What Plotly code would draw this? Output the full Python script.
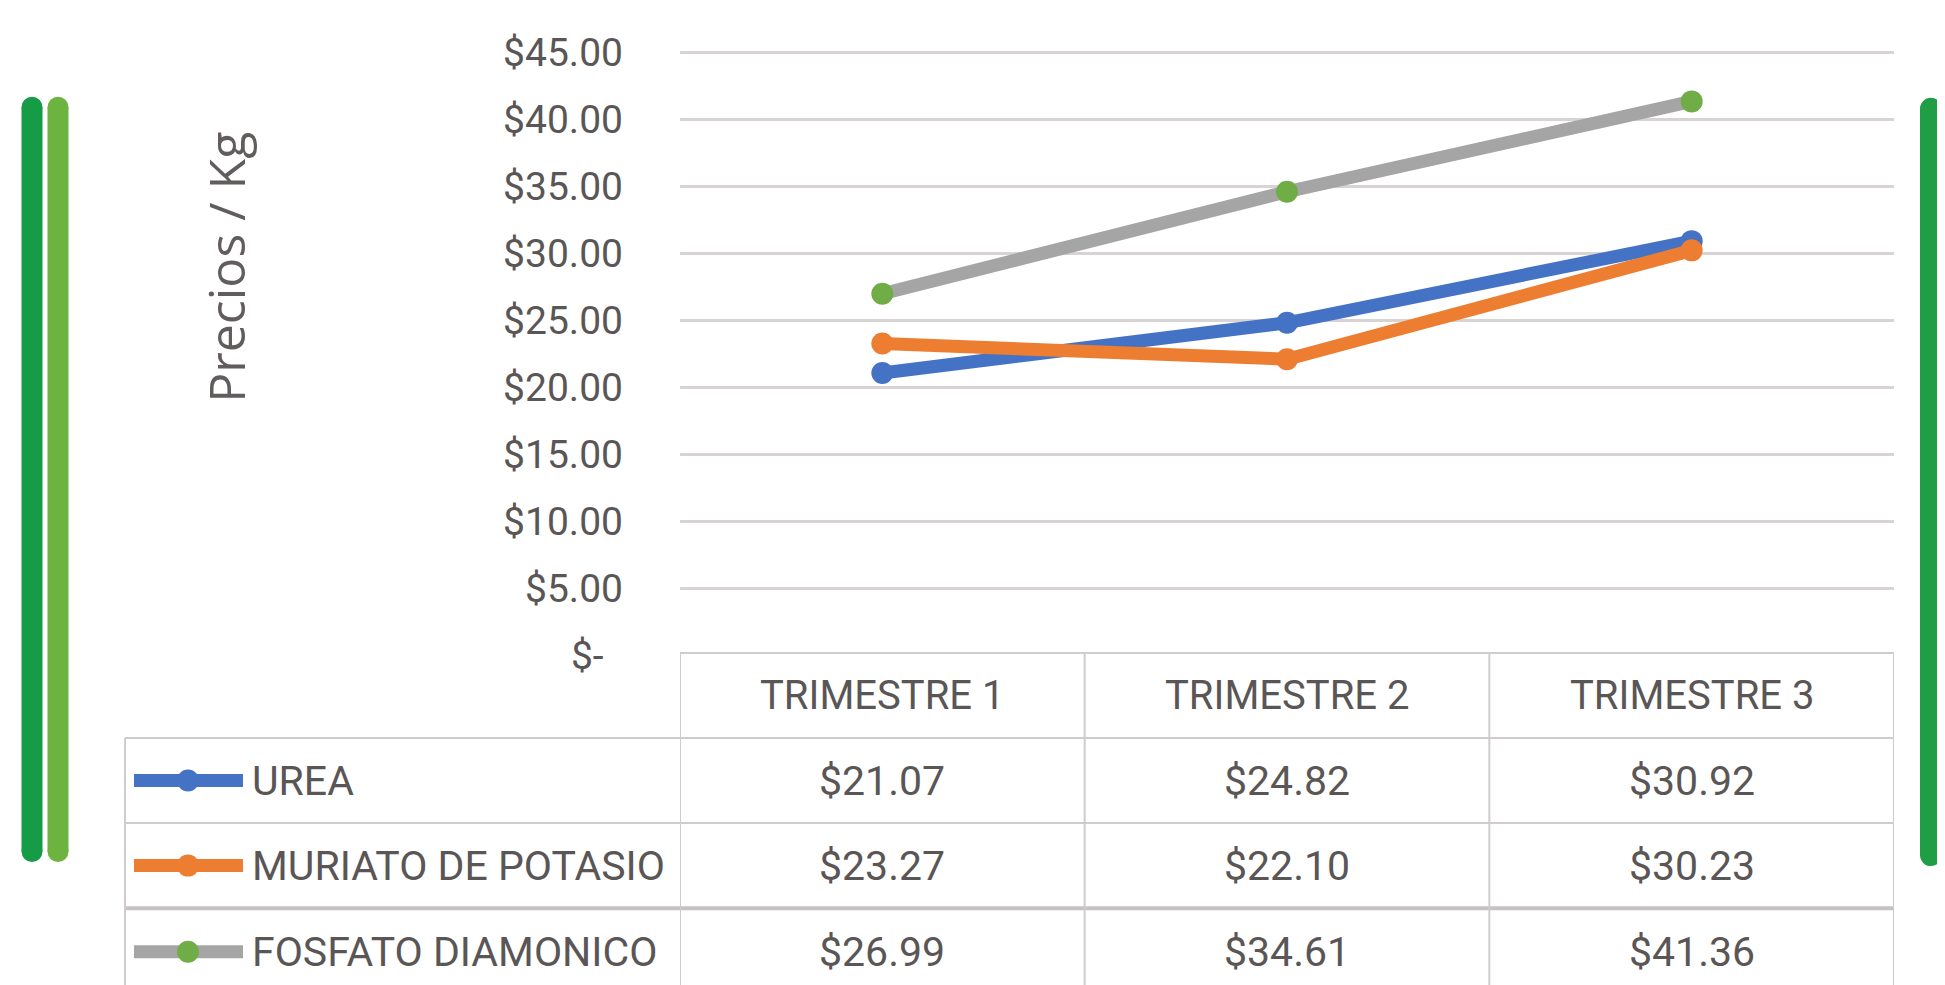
import plotly.graph_objects as go

# ---------------- data ----------------
categories = ["TRIMESTRE 1", "TRIMESTRE 2", "TRIMESTRE 3"]
series_names = ["UREA", "MURIATO DE POTASIO", "FOSFATO DIAMONICO"]
urea = [21.07, 24.82, 30.92]
muriato = [23.27, 22.10, 30.23]
fosfato = [26.99, 34.61, 41.36]
tick_values = [0, 5, 10, 15, 20, 25, 30, 35, 40, 45]
tick_labels = ["$-\u00a0\u00a0", "$5.00", "$10.00", "$15.00", "$20.00",
               "$25.00", "$30.00", "$35.00", "$40.00", "$45.00"]
y_title = "Precios / Kg"

# ---------------- style / layout (page pixels) ----------------
OFF = 8                      # default body margin of the html page
W, H = 1945 - OFF, 985 - OFF
PL, PR = 680, 1894           # plot area left/right (page px)
P45, P0 = 53, 655            # y of $45 and $0 (page px)
YMAX = 45.2
unit = (P0 - P45) / 45.0
PT = P45 - (YMAX - 45) * unit

line_colors = ["#4472C4", "#ED7D31", "#A5A5A5"]
marker_colors = ["#4472C4", "#ED7D31", "#70AD47"]
text_color = "#5b5656"
grid_color = "#d8d4d4"
border_color = "#d0cccc"
FONT = "Roboto, Liberation Sans, sans-serif"


def px_x(px):
    return (px - PL) / (PR - PL)


def px_y(py):
    return (P0 - py) / (P0 - PT)


all_series = [urea, muriato, fosfato]

fig = go.Figure()
for name, vals, lc, mc in zip(series_names, all_series, line_colors, marker_colors):
    fig.add_trace(go.Scatter(
        x=categories, y=vals, name=name, mode="lines+markers",
        line=dict(color=lc, width=13),
        marker=dict(color=mc, size=22, line=dict(width=0)),
        showlegend=False,
    ))

shapes = []
annotations = []

# ---- table ----
row_edges = [653, 738, 823, 908, 995]
col_edges_idx = [-0.5, 0.5, 1.5, 2.5]
legend_left = 125

shapes.append(dict(type="line", xref="x", yref="paper", x0=-0.5, x1=2.5,
                   y0=px_y(row_edges[0]), y1=px_y(row_edges[0]),
                   line=dict(color=border_color, width=2)))
for i, ry in enumerate(row_edges[1:4]):
    shapes.append(dict(type="line", xref="paper", yref="paper",
                       x0=px_x(legend_left), x1=1, y0=px_y(ry), y1=px_y(ry),
                       line=dict(color="#c6c2c2" if i == 2 else border_color,
                                 width=4 if i == 2 else 2)))
for cx in col_edges_idx:
    shapes.append(dict(type="line", xref="x", yref="paper", x0=cx, x1=cx,
                       y0=px_y(row_edges[0]), y1=px_y(row_edges[-1]),
                       line=dict(color=border_color, width=2)))
shapes.append(dict(type="line", xref="paper", yref="paper",
                   x0=px_x(legend_left), x1=px_x(legend_left),
                   y0=px_y(row_edges[1]), y1=px_y(row_edges[-1]),
                   line=dict(color=border_color, width=2)))

for cat in categories:
    annotations.append(dict(x=cat, xref="x", y=px_y((row_edges[0] + row_edges[1]) / 2),
                            yref="paper", text=cat, showarrow=False,
                            font=dict(family=FONT, size=40, color=text_color),
                            xanchor="center", yanchor="middle"))

for r, (name, vals, lc, mc) in enumerate(zip(series_names, all_series, line_colors, marker_colors)):
    yc = (row_edges[r + 1] + row_edges[r + 2]) / 2
    for cat, v in zip(categories, vals):
        annotations.append(dict(x=cat, xref="x", y=px_y(yc), yref="paper",
                                text=f"${v:.2f}", showarrow=False,
                                font=dict(family=FONT, size=41, color=text_color),
                                xanchor="center", yanchor="middle"))
    shapes.append(dict(type="line", xref="paper", yref="paper",
                       x0=px_x(134), x1=px_x(243), y0=px_y(yc), y1=px_y(yc),
                       line=dict(color=lc, width=13)))
    shapes.append(dict(type="circle", xref="paper", yref="paper",
                       x0=px_x(188 - 11), x1=px_x(188 + 11),
                       y0=px_y(yc - 11), y1=px_y(yc + 11),
                       fillcolor=mc, line=dict(width=0)))
    annotations.append(dict(x=px_x(250), xref="paper", y=px_y(yc), yref="paper",
                            text=name, showarrow=False,
                            font=dict(family=FONT, size=41, color=text_color),
                            xanchor="left", yanchor="middle"))

# y axis title
annotations.append(dict(x=px_x(226), xref="paper", y=px_y(268), yref="paper",
                        text=y_title, showarrow=False, textangle=-90,
                        font=dict(family="Open Sans, sans-serif", size=50, color="#625d5d"),
                        xanchor="center", yanchor="middle"))

# decorative green bars (rounded)
bars = [(32, 97, 862, 21, "#169b46"), (58, 97, 862, 21, "#6cb33f"), (1931, 98, 866, 22, "#1f9e45")]
for cx, y0, y1, w, col in bars:
    shapes.append(dict(type="rect", xref="paper", yref="paper",
                       x0=px_x(cx - w / 2), x1=px_x(cx + w / 2),
                       y0=px_y(y1 - w / 2), y1=px_y(y0 + w / 2),
                       fillcolor=col, line=dict(width=0), layer="above"))
    for ey in (y0 + w / 2, y1 - w / 2):
        shapes.append(dict(type="circle", xref="paper", yref="paper",
                           x0=px_x(cx - w / 2), x1=px_x(cx + w / 2),
                           y0=px_y(ey - w / 2), y1=px_y(ey + w / 2),
                           fillcolor=col, line=dict(width=0), layer="above"))

fig.update_layout(
    width=W, height=H,
    margin=dict(l=PL - OFF, r=W - (PR - OFF), t=PT - OFF, b=H - (P0 - OFF), pad=0),
    paper_bgcolor="white", plot_bgcolor="white",
    shapes=shapes, annotations=annotations,
    showlegend=False,
    xaxis=dict(type="category", range=[-0.5, 2.5], showticklabels=False,
               showgrid=False, zeroline=False, showline=False, ticks=""),
    yaxis=dict(range=[0, YMAX], tickvals=tick_values, ticktext=tick_labels,
               showgrid=True, gridcolor=grid_color, gridwidth=3,
               zeroline=False, showline=False, ticks="",
               ticklabelstandoff=56,
               tickfont=dict(family=FONT, size=39, color=text_color)),
)

fig.write_html("out.html")
